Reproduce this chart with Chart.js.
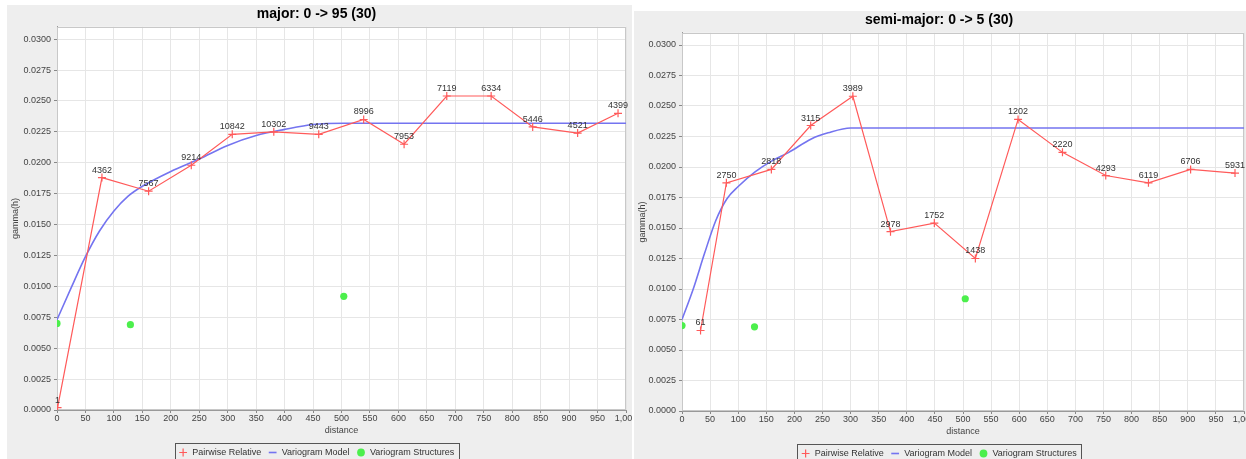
<!DOCTYPE html>
<html>
<head>
<meta charset="utf-8">
<title>Variogramas</title>
<script src="https://cdn.jsdelivr.net/npm/chart.js@4.4.1/dist/chart.umd.min.js"></script>
<style>
  html, body { margin: 0; padding: 0; background: #fff; overflow: hidden; height: 100%; }
  .panel { position: absolute; }
  #pMaj { left: 7px;   top: 5px;  width: 625px; height: 462px; }
  #pSem { left: 634px; top: 11px; width: 612px; height: 457px; }
</style>
</head>
<body>
<div class="panel" id="pMaj"><canvas id="cMaj"></canvas></div>
<div class="panel" id="pSem"><canvas id="cSem"></canvas></div>
<script>
// ── DADOS ─────────────────────────────────────────────────────────

const lagTicks   = [0, 50, 100, 150, 200, 250, 300, 350, 400, 450, 500,
                    550, 600, 650, 700, 750, 800, 850, 900, 950, 1000];
const gammaTicks = [0, 0.0025, 0.005, 0.0075, 0.01, 0.0125, 0.015,
                    0.0175, 0.02, 0.0225, 0.025, 0.0275, 0.03];

// major: 0 -> 95
const majLag   = [1, 79, 161, 236, 308, 381, 460, 539, 610, 685, 763, 836, 915, 986];
const majGamma = [0.0002, 0.0188, 0.0177, 0.0198, 0.0223, 0.0225, 0.0223,
                  0.0235, 0.0215, 0.0254, 0.0254, 0.0229, 0.0224, 0.0240];
const majPairs = [1, 4362, 7567, 9214, 10842, 10302, 9443, 8996, 7953, 7119, 6334, 5446, 4521, 4399];

const majModelLag   = [0, 25, 50, 75, 100, 125, 150, 200, 250, 300, 350, 400, 450, 504, 1000];
const majModelGamma = [0.0073, 0.0099, 0.0124, 0.0145, 0.0161, 0.0173, 0.0181, 0.0193,
                       0.0203, 0.0214, 0.0222, 0.0227, 0.0231, 0.0232, 0.0232];

// semi-major: 0 -> 5
const semLag   = [33, 79, 159, 229, 304, 371, 449, 522, 598, 677, 754, 830, 905, 984];
const semGamma = [0.0066, 0.0187, 0.0198, 0.0234, 0.0258, 0.0147, 0.0154,
                  0.0125, 0.0239, 0.0212, 0.0193, 0.0187, 0.0198, 0.0195];
const semPairs = [61, 2750, 2818, 3115, 3989, 2978, 1752, 1438, 1202, 2220, 4293, 6119, 6706, 5931];

const semModelLag   = [0, 20, 40, 60, 80, 100, 130, 160, 190, 230, 260, 300, 1000];
const semModelGamma = [0.0075, 0.0100, 0.0129, 0.0156, 0.0174, 0.0184, 0.0196,
                       0.0205, 0.0212, 0.0223, 0.0228, 0.0232, 0.0232];

// nugget + two nested structures (range, contribution)
const strucLag   = [0, 129, 504];
const strucGamma = [0.0070, 0.0069, 0.0092];

// ── ESTILO ────────────────────────────────────────────────────────

const RED   = '#ff5a5a';
const BLUE  = '#7474f0';
const GREEN = '#4cef4c';
const tickC = '#444';
const gridC = '#e6e6e6';

Chart.defaults.font.family = '"Liberation Sans", Arial, sans-serif';

function pts(xs, ys) {
  return xs.map((x, i) => ({ x, y: ys[i] }));
}

// ── PLUGINS ───────────────────────────────────────────────────────

const panelBg = {
  id: 'panelBg',
  beforeDraw(chart) {
    const { ctx, chartArea: a, width, height } = chart;
    ctx.save();
    ctx.fillStyle = '#eeeeee';
    ctx.fillRect(0, 0, width, height);
    ctx.fillStyle = '#ffffff';
    ctx.fillRect(a.left, a.top, a.right - a.left, a.bottom - a.top);
    ctx.restore();
  },
  beforeDatasetsDraw(chart) {
    const { ctx, chartArea: a } = chart;
    ctx.save();
    ctx.strokeStyle = '#c8c8c8';
    ctx.lineWidth = 1;
    ctx.strokeRect(Math.round(a.left) + 0.5, Math.round(a.top) + 0.5,
                   Math.round(a.right - a.left) - 1, Math.round(a.bottom - a.top) - 1);
    ctx.restore();
  }
};

// pair counts written over each experimental point
const pairLabels = {
  id: 'pairLabels',
  afterDatasetsDraw(chart, args, opts) {
    const meta = chart.getDatasetMeta(0);
    const { ctx } = chart;
    ctx.save();
    ctx.font = '9px "Liberation Sans", Arial, sans-serif';
    ctx.fillStyle = '#333';
    ctx.textAlign = 'center';
    ctx.textBaseline = 'middle';
    meta.data.forEach((p, i) => ctx.fillText(String(opts.counts[i]), p.x, p.y - 7.5));
    ctx.restore();
  }
};

// box round the legend row
const legendFrame = {
  id: 'legendFrame',
  afterDraw(chart) {
    const hb = chart.legend && chart.legend.legendHitBoxes;
    if (!hb || !hb.length) return;
    const l = Math.min(...hb.map(h => h.left)) - 4;
    const r = Math.max(...hb.map(h => h.left + h.width)) + 4;
    const t = hb[0].top - 5;
    const b = hb[0].top + hb[0].height + 5;
    const { ctx } = chart;
    ctx.save();
    ctx.strokeStyle = '#555';
    ctx.lineWidth = 1;
    ctx.strokeRect(Math.round(l) + 0.5, Math.round(t) + 0.5, Math.round(r - l), Math.round(b - t));
    ctx.restore();
  }
};

// ── GRÁFICOS ──────────────────────────────────────────────────────

const charts = {};

function mkVariogram(id, title, d, lay) {
  const el = document.getElementById(id);
  charts[id] = new Chart(el, {
    type: 'line',
    data: {
      datasets: [{
        label: 'Pairwise Relative',
        data: pts(d.lag, d.gamma),
        borderColor: RED,
        borderWidth: 1.2,
        pointStyle: 'cross',
        pointRadius: 4,
        pointBorderColor: RED,
        pointBorderWidth: 1.2,
        tension: 0,
      }, {
        label: 'Variogram Model',
        data: pts(d.modelLag, d.modelGamma),
        borderColor: BLUE,
        borderWidth: 1.6,
        pointRadius: 0,
        pointStyle: 'line',
        pointBorderColor: BLUE,
        pointBorderWidth: 1.6,
        cubicInterpolationMode: 'monotone',
      }, {
        label: 'Variogram Structures',
        data: pts(strucLag, strucGamma),
        showLine: false,
        pointStyle: 'circle',
        pointRadius: 3.6,
        pointBorderWidth: 0,
        pointBackgroundColor: GREEN,
        pointBorderColor: GREEN,
        backgroundColor: GREEN,
        borderColor: GREEN,
      }],
    },
    options: {
      responsive: true,
      maintainAspectRatio: false,
      animation: false,
      events: [],
      layout: { autoPadding: false, padding: { left: 0, right: lay.padRight, top: 0, bottom: 0 } },
      plugins: {
        title: {
          display: true, text: title, color: '#000',
          font: { size: 14, weight: 'bold' },
          padding: { top: 1, bottom: 4 },
        },
        legend: {
          position: 'bottom',
          labels: {
            usePointStyle: true, boxWidth: 9, boxHeight: 5.5, padding: 7,
            color: '#333', font: { size: 9 },
          },
        },
        tooltip: { enabled: false },
        pairLabels: { counts: d.pairs },
      },
      scales: {
        x: {
          type: 'linear', min: 0, max: 1000,
          afterBuildTicks: s => { s.ticks = lagTicks.map(v => ({ value: v })); },
          afterFit: s => { s.height = 31; s.paddingRight = 0; },
          title: {
            display: true, text: 'distance', color: tickC,
            font: { size: 9 }, padding: { top: 0, bottom: 5 },
          },
          ticks: { color: tickC, font: { size: 9 }, padding: 0, maxRotation: 0, autoSkip: false },
          grid: { color: gridC, tickColor: '#888', tickLength: 3 },
          border: { color: '#999' },
        },
        y: {
          type: 'linear', min: 0, max: 0.031,
          afterBuildTicks: s => { s.ticks = gammaTicks.map(v => ({ value: v })); },
          afterFit: s => { s.width = lay.yWidth; },
          title: {
            display: true, text: 'gamma(h)', color: tickC,
            font: { size: 9 }, padding: { top: 3, bottom: 0 },
          },
          ticks: { color: tickC, font: { size: 9 }, padding: 3, callback: v => Number(v).toFixed(4) },
          grid: { color: gridC, tickColor: '#888', tickLength: 3 },
          border: { color: '#999' },
        },
      },
    },
    plugins: [panelBg, pairLabels, legendFrame],
  });
}

mkVariogram('cMaj', 'major: 0 -> 95 (30)', {
  lag: majLag, gamma: majGamma, pairs: majPairs,
  modelLag: majModelLag, modelGamma: majModelGamma,
}, { yWidth: 50, padRight: 6 });

mkVariogram('cSem', 'semi-major: 0 -> 5 (30)', {
  lag: semLag, gamma: semGamma, pairs: semPairs,
  modelLag: semModelLag, modelGamma: semModelGamma,
}, { yWidth: 48, padRight: 2 });
</script>
</body>
</html>
